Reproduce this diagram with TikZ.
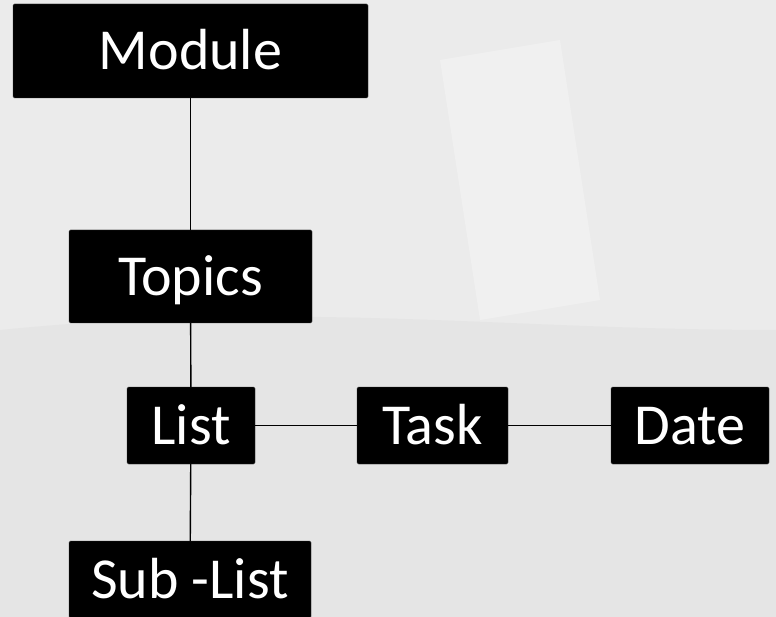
\documentclass[tikz,border=0pt]{standalone}
\usepackage{fontspec}
\setmainfont{Carlito}
\begin{document}
\begin{tikzpicture}[x=1pt,y=-1pt,
  box/.style={fill=black,draw=black!80,rounded corners=1.5pt,text=white,
    font=\fontsize{58}{60}\selectfont,inner sep=0pt,
    text height=37.4pt,text depth=0pt},
  link/.style={draw=black,line width=1.4pt}]
\useasboundingbox (0,0) rectangle (776,617);
\fill[black!8] (0,0) rectangle (776,617);
\fill[black!10] (0,330) .. controls (300,300) and (500,330) .. (776,330) -- (776,617) -- (0,617) -- cycle;
\fill[black!6] (440,60) -- (560,40) -- (600,300) -- (480,320) -- cycle;
\node[box,minimum width=355pt,minimum height=94pt] (module) at (190.5,51) {Module};
\node[box,minimum width=243pt,minimum height=93pt] (topics) at (190.5,276.5) {Topics};
\node[box,minimum width=128pt,minimum height=77pt] (list) at (191,425.5) {List};
\node[box,minimum width=151pt,minimum height=77pt] (task) at (432.5,425.5) {Task};
\node[box,minimum width=158pt,minimum height=77pt] (date) at (690,425.5) {Date};
\node[box,minimum width=242pt,minimum height=77pt] (sub) at (190,579.5) {Sub -List};
\draw[link] (module) -- (topics);
\draw[link] (topics) -- (list);
\draw[link] (list) -- (task);
\draw[link] (task) -- (date);
\draw[link] (list) -- (sub);
\end{tikzpicture}
\end{document}
